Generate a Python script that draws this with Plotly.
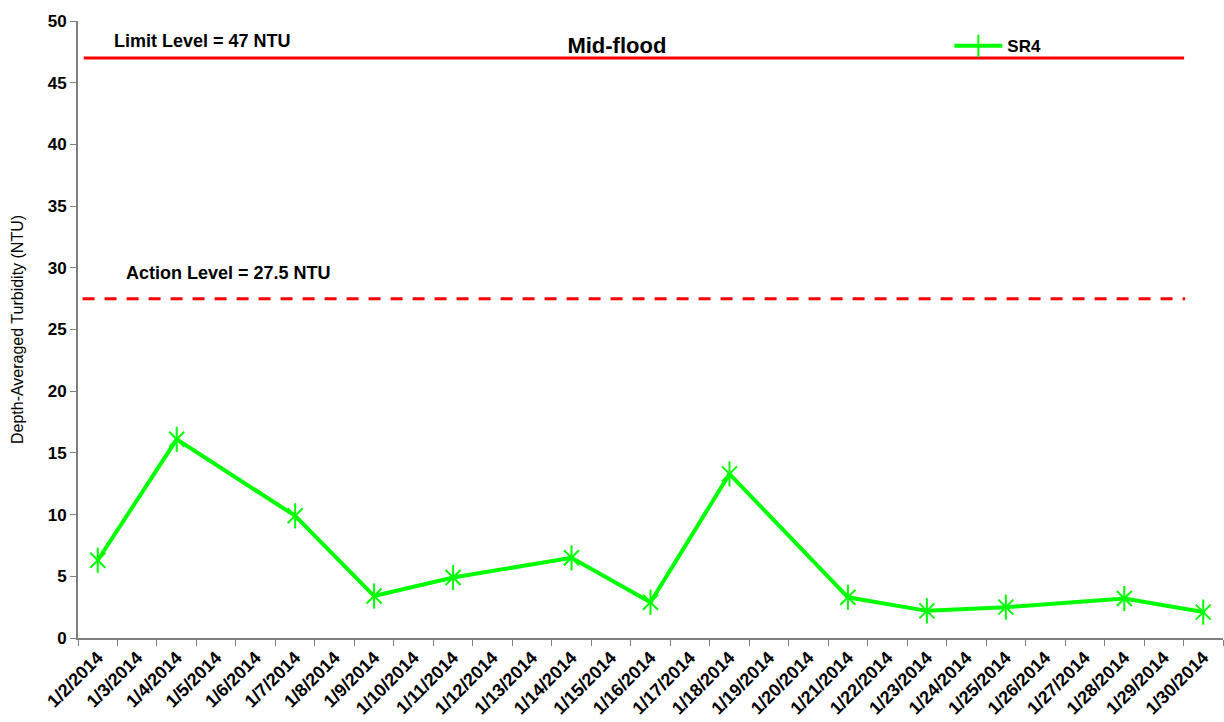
import plotly.graph_objects as go

# Daily category axis, 1/2/2014 .. 1/30/2014
all_dates = [f"1/{d}/2014" for d in range(2, 31)]

# SR4 depth-averaged turbidity (NTU), mid-flood
sample_dates = ["1/2/2014", "1/4/2014", "1/7/2014", "1/9/2014", "1/11/2014",
                "1/14/2014", "1/16/2014", "1/18/2014", "1/21/2014", "1/23/2014",
                "1/25/2014", "1/28/2014", "1/30/2014"]
sr4_values = [6.3, 16.1, 9.9, 3.4, 4.9, 6.5, 2.9, 13.3, 3.3, 2.2, 2.5, 3.2, 2.1]

limit_level = 47
action_level = 27.5

FONT = "Liberation Sans, Arial, sans-serif"
GREEN = "#00FF00"
RED = "#FF0000"
AXIS_GREY = "#7F7F7F"

fig = go.Figure()

# Line with the vertical stroke of the star marker
fig.add_trace(go.Scatter(
    x=sample_dates, y=sr4_values, name="SR4", mode="lines+markers",
    legendgroup="sr4",
    line=dict(color=GREEN, width=4),
    marker=dict(symbol="line-ns-open", size=18, color=GREEN,
                line=dict(color=GREEN, width=2)),
))
# Diagonal strokes of the star marker
fig.add_trace(go.Scatter(
    x=sample_dates, y=sr4_values, name="SR4", mode="markers",
    legendgroup="sr4", showlegend=False, hoverinfo="skip",
    marker=dict(symbol="x-thin-open", size=15, color=GREEN,
                line=dict(color=GREEN, width=2)),
))

# Limit and action levels
fig.add_shape(type="line", xref="paper", yref="y", x0=0.005, x1=0.966,
              y0=limit_level, y1=limit_level, line=dict(color=RED, width=3))
fig.add_shape(type="line", xref="paper", yref="y", x0=0.004, x1=0.967,
              y0=action_level, y1=action_level,
              line=dict(color=RED, width=3, dash="12px,10px"))

fig.add_annotation(text=f"Limit Level = {limit_level} NTU", xref="paper", yref="y",
                   x=0.03, y=48.4, xanchor="left", yanchor="middle", showarrow=False,
                   font=dict(family=FONT, size=18, color="black", weight="bold"))
fig.add_annotation(text=f"Action Level = {action_level} NTU", xref="paper", yref="y",
                   x=0.04, y=29.6, xanchor="left", yanchor="middle", showarrow=False,
                   font=dict(family=FONT, size=18, color="black", weight="bold"))

fig.update_layout(
    width=1224, height=722,
    margin=dict(l=78, r=1, t=21, b=84),
    paper_bgcolor="white", plot_bgcolor="white",
    font=dict(family=FONT, color="black"),
    title=dict(text="<b>Mid-flood</b>", x=0.504, xanchor="center", y=0.937,
               yanchor="middle", font=dict(family=FONT, size=22, color="black")),
    showlegend=True,
    legend=dict(x=0.761, y=0.959, xanchor="left", yanchor="middle",
                bgcolor="rgba(0,0,0,0)", itemwidth=48,
                font=dict(family=FONT, size=17, color="black", weight="bold")),
    xaxis=dict(
        type="category", categoryorder="array", categoryarray=all_dates,
        range=[-0.5, len(all_dates) - 0.5], tickson="boundaries",
        tickmode="array", tickvals=all_dates, ticktext=all_dates,
        tickangle=-45, ticks="outside", ticklen=6, tickcolor=AXIS_GREY,
        showline=True, linecolor=AXIS_GREY, linewidth=2, showgrid=False,
        zeroline=False, automargin=False,
        tickfont=dict(family=FONT, size=18, color="black", weight="bold"),
    ),
    yaxis=dict(
        range=[0, 50], dtick=5, ticks="outside", ticklen=6, tickcolor=AXIS_GREY,
        showline=True, linecolor=AXIS_GREY, linewidth=2, showgrid=False,
        zeroline=False, automargin=False,
        tickfont=dict(family=FONT, size=17, color="black", weight="bold"),
        title=dict(text="Depth-Averaged Turbidity (NTU)", standoff=20,
                   font=dict(family=FONT, size=16, color="black")),
    ),
)

fig.write_html("out.html")
